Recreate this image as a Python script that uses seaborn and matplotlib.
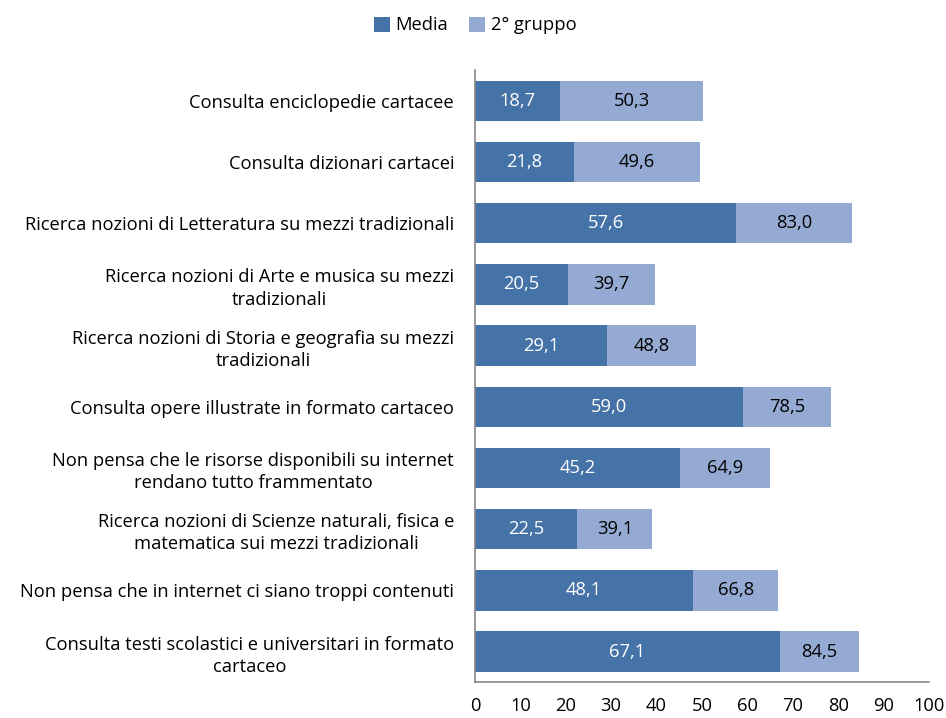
import pandas as pd
import seaborn as sns
import matplotlib.pyplot as plt

categories = [
    "Consulta enciclopedie cartacee",
    "Consulta dizionari cartacei",
    "Ricerca nozioni di Letteratura su mezzi tradizionali",
    "Ricerca nozioni di Arte e musica su mezzi\ntradizionali",
    "Ricerca nozioni di Storia e geografia su mezzi\ntradizionali",
    "Consulta opere illustrate in formato cartaceo",
    "Non pensa che le risorse disponibili su internet\nrendano tutto frammentato",
    "Ricerca nozioni di Scienze naturali, fisica e\nmatematica sui mezzi tradizionali",
    "Non pensa che in internet ci siano troppi contenuti",
    "Consulta testi scolastici e universitari in formato\ncartaceo",
]
media = [18.7, 21.8, 57.6, 20.5, 29.1, 59.0, 45.2, 22.5, 48.1, 67.1]
gruppo2 = [50.3, 49.6, 83.0, 39.7, 48.8, 78.5, 64.9, 39.1, 66.8, 84.5]

dark = "#4572A7"
light = "#95AAD3"
fs = 13.2

df = pd.DataFrame({"voce": categories, "Media": media, "2° gruppo": gruppo2})

sns.set_style("white", {"text.color": "black", "xtick.color": "black", "ytick.color": "black"})
plt.rcParams["font.family"] = ["Open Sans", "DejaVu Sans"]

fig = plt.figure(figsize=(9.46, 7.18), dpi=100)
ax = fig.add_axes([0.502, 0.050, 0.480, 0.852])

sns.barplot(data=df, y="voce", x="2° gruppo", color=light, saturation=1,
            width=0.66, ax=ax, label="2° gruppo", linewidth=0)
sns.barplot(data=df, y="voce", x="Media", color=dark, saturation=1,
            width=0.66, ax=ax, label="Media", linewidth=0)

for i, (m, g) in enumerate(zip(media, gruppo2)):
    ax.text(m / 2, i, f"{m:.1f}".replace(".", ","), ha="center", va="center",
            color="white", fontsize=fs)
    ax.text((m + g) / 2, i, f"{g:.1f}".replace(".", ","), ha="center", va="center",
            color="black", fontsize=fs)

ax.set_xlim(0, 100)
ax.set_ylim(9.5, -0.5)
ax.set_xticks(range(0, 101, 10))
ax.set_xlabel("")
ax.set_ylabel("")
ax.tick_params(axis="x", direction="out", length=5, color="#868686", labelcolor="black",
               labelsize=fs, pad=6)
ax.tick_params(axis="y", length=0, labelsize=fs, labelcolor="black", pad=15)
for lab in ax.get_yticklabels():
    lab.set_horizontalalignment("right")
    lab.set_multialignment("center")
    lab.set_linespacing(1.3)
for s in ["top", "right"]:
    ax.spines[s].set_visible(False)
for s in ["left", "bottom"]:
    ax.spines[s].set_color("#868686")
    ax.spines[s].set_linewidth(1.2)

handles, labels = ax.get_legend_handles_labels()
order = [labels.index("Media"), labels.index("2° gruppo")]
fig.legend([handles[k] for k in order], [labels[k] for k in order],
           loc="upper center", bbox_to_anchor=(0.502, 1.0), ncol=2, frameon=False,
           fontsize=fs, handlelength=0.9, handleheight=0.9, handletextpad=0.3,
           columnspacing=1.1, labelcolor="black")
if ax.get_legend():
    ax.get_legend().remove()

fig.savefig("out.png", dpi=100)
